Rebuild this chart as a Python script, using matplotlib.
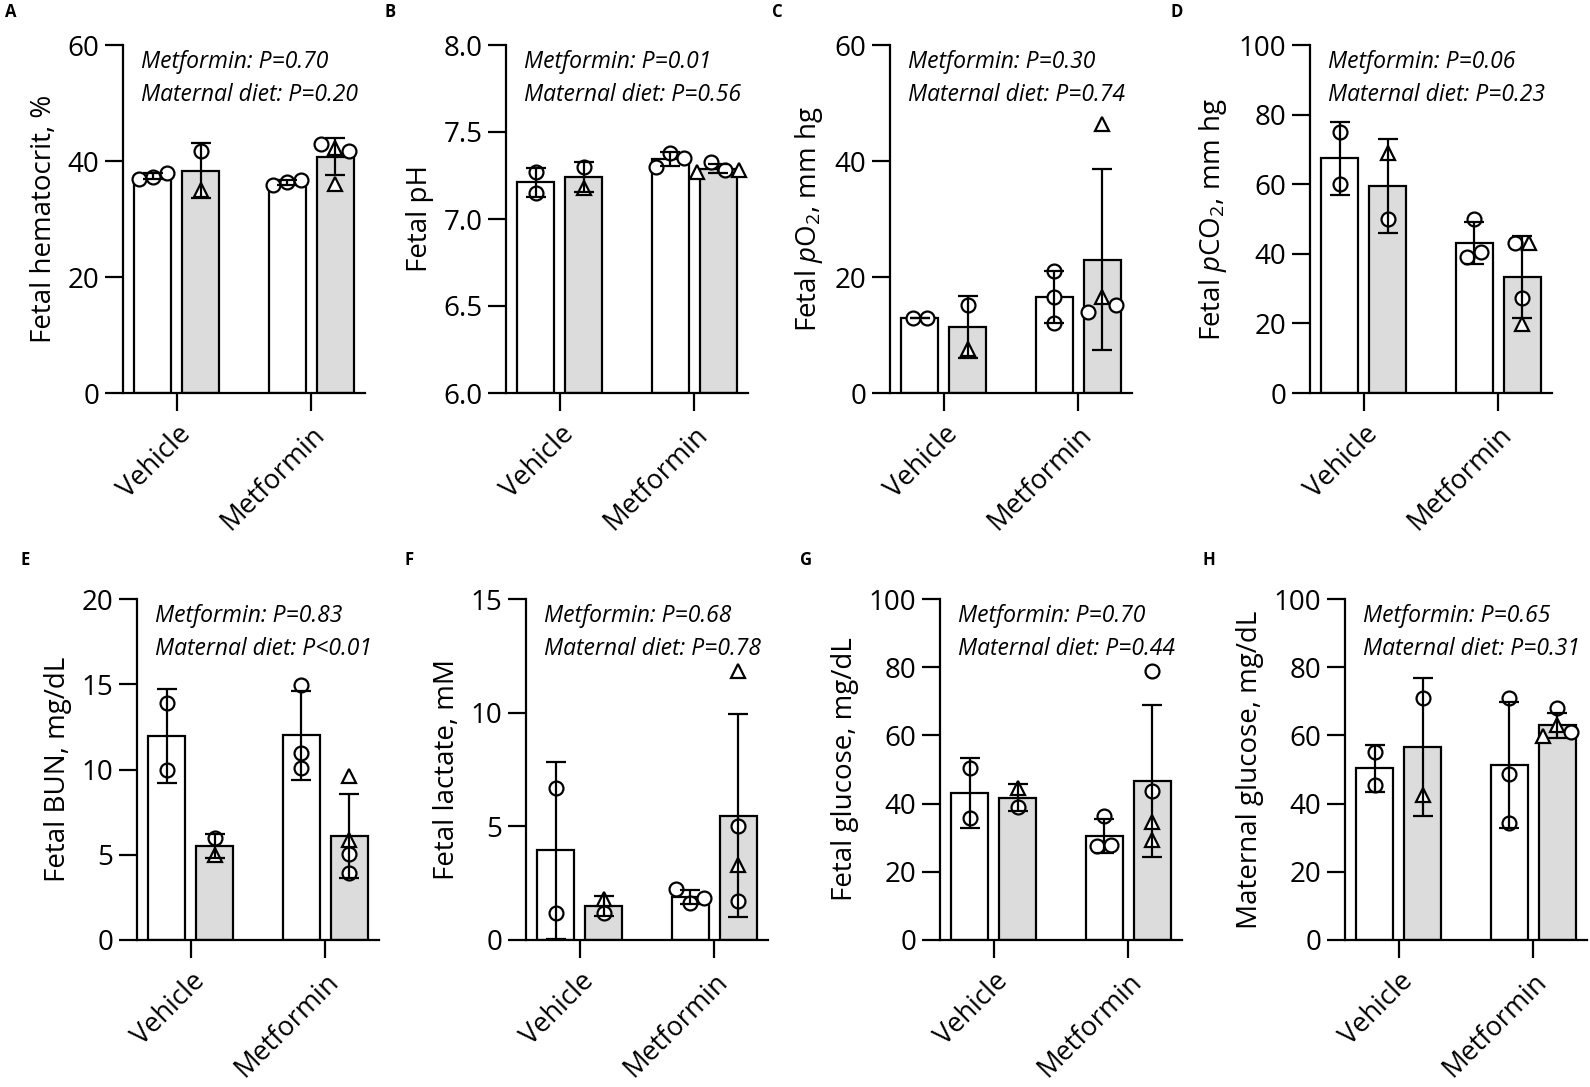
import numpy as np
import matplotlib
matplotlib.use('Agg')
import matplotlib.pyplot as plt

plt.rcParams['font.family'] = ['Open Sans', 'DejaVu Sans']
plt.rcParams['mathtext.fontset'] = 'custom'
plt.rcParams['mathtext.rm'] = 'Open Sans'
plt.rcParams['mathtext.it'] = 'Open Sans:italic'

# x groups; each group has a control-diet bar (white) and a maternal-diet bar (grey)
GROUPS = ['Vehicle', 'Metformin']

# individual values per bar: [Vehicle/control, Vehicle/diet, Metformin/control, Metformin/diet]
# sex codes: 'M' circle, 'F' triangle
hct = [[36.9, 37.3, 38.0], [41.7, 35.0], [35.8, 36.3, 36.8], [42.9, 42.3, 41.8, 36.0]]
hct_sex = [['M', 'M', 'M'], ['M', 'F'], ['M', 'M', 'M'], ['M', 'F', 'M', 'F']]

ph = [[7.27, 7.15], [7.30, 7.18], [7.30, 7.38, 7.35], [7.27, 7.33, 7.28, 7.28]]
ph_sex = [['M', 'M'], ['M', 'F'], ['M', 'M', 'M'], ['F', 'M', 'M', 'F']]

po2 = [[13.0, 13.0], [15.1, 7.6], [21.0, 16.6, 12.0], [46.4, 13.9, 16.6, 15.1]]
po2_sex = [['M', 'M'], ['M', 'F'], ['M', 'M', 'M'], ['F', 'M', 'F', 'M']]

pco2 = [[74.9, 60.0], [69.0, 50.0], [50.0, 39.0, 40.5], [43.1, 43.1, 27.2, 19.7]]
pco2_sex = [['M', 'M'], ['F', 'M'], ['M', 'M', 'M'], ['M', 'F', 'M', 'F']]

bun = [[13.9, 10.0], [6.0, 5.0], [14.95, 10.95, 10.1], [9.6, 5.86, 5.05, 3.94]]
bun_sex = [['M', 'M'], ['M', 'F'], ['M', 'M', 'M'], ['F', 'F', 'M', 'M']]

lact = [[6.7, 1.2], [1.8, 1.2], [2.24, 1.63, 1.83], [11.85, 5.0, 3.3, 1.7]]
lact_sex = [['M', 'M'], ['F', 'M'], ['M', 'M', 'M'], ['F', 'M', 'F', 'M']]

fglu = [[50.3, 35.9], [44.5, 39.0], [36.4, 27.6, 27.8], [78.8, 43.6, 34.5, 29.3]]
fglu_sex = [['M', 'M'], ['F', 'M'], ['M', 'M', 'M'], ['M', 'M', 'F', 'F']]

mglu = [[55.1, 45.5], [71.0, 42.4], [71.0, 48.7, 34.3], [67.9, 59.8, 63.0, 61.0]]
mglu_sex = [['M', 'M'], ['M', 'F'], ['M', 'M', 'M'], ['M', 'F', 'F', 'M']]

p_metformin = ['0.70', '0.01', '0.30', '0.06', '0.83', '0.68', '0.70', '0.65']
p_diet = ['P=0.20', 'P=0.56', 'P=0.74', 'P=0.23', 'P<0.01', 'P=0.78', 'P=0.44', 'P=0.31']

ylabels = ['Fetal hematocrit, %', 'Fetal pH', 'Fetal $p$O$_2$, mm hg',
           'Fetal $p$CO$_2$, mm hg', 'Fetal BUN, mg/dL', 'Fetal lactate, mM',
           'Fetal glucose, mg/dL', 'Maternal glucose, mg/dL']
yticks = [[0, 20, 40, 60], [6.0, 6.5, 7.0, 7.5, 8.0], [0, 20, 40, 60],
          [0, 20, 40, 60, 80, 100], [0, 5, 10, 15, 20], [0, 5, 10, 15],
          [0, 20, 40, 60, 80, 100], [0, 20, 40, 60, 80, 100]]
letters = ['A', 'B', 'C', 'D', 'E', 'F', 'G', 'H']

values = [hct, ph, po2, pco2, bun, lact, fglu, mglu]
sexes = [hct_sex, ph_sex, po2_sex, pco2_sex, bun_sex, lact_sex, fglu_sex, mglu_sex]

# layout (pixels)
W, H = 1590, 1087
AX_W = 242
ROW = [(45, 393), (599, 940)]          # top, bottom of axes per row
AX_LEFT = [123, 506, 890, 1310, 137, 526, 940, 1345]
LETTER_XY = [(5, 12), (385, 12), (772, 12), (1170, 12),
             (20, 560), (405, 560), (800, 560), (1202, 560)]

BAR_W = 0.275
OFF = 0.18
XLIM = (-0.4, 1.4)
FILLS = ['white', '#dcdcdc']
MARKERS = {'M': 'o', 'F': '^'}
STEP_PX = 14


def swarm_offsets(vals, px_per_unit, step_units, gap_px=13):
    """Spread overlapping points sideways, centred on the bar."""
    vals = np.asarray(vals)
    order = np.argsort(-vals, kind='stable')
    clusters, cur = [], [order[0]]
    for a, b in zip(order[:-1], order[1:]):
        if (vals[a] - vals[b]) * px_per_unit < gap_px:
            cur.append(b)
        else:
            clusters.append(cur)
            cur = [b]
    clusters.append(cur)
    offs = np.zeros(len(vals))
    for c in clusters:
        c = sorted(c)
        n = len(c)
        for j, idx in enumerate(c):
            offs[idx] = (j - (n - 1) / 2) * step_units
    return offs


fig = plt.figure(figsize=(W / 100, H / 100), dpi=100)

for k in range(8):
    top, bottom = ROW[k // 4]
    ax = fig.add_axes([AX_LEFT[k] / W, 1 - bottom / H, AX_W / W, (bottom - top) / H])
    ymin, ymax = yticks[k][0], yticks[k][-1]
    px_per_unit = (bottom - top) / (ymax - ymin)
    step = STEP_PX / (AX_W / (XLIM[1] - XLIM[0]))

    xs = [-OFF, OFF, 1 - OFF, 1 + OFF]
    for i in range(4):
        v = np.array(values[k][i])
        mean = v.mean()
        sd = v.std(ddof=1)
        ax.bar(xs[i], mean - ymin, bottom=ymin, width=BAR_W, color=FILLS[i % 2],
               edgecolor='black', linewidth=1.6, zorder=1)
        offs = swarm_offsets(v, px_per_unit, step)
        for val, sx, o in zip(v, sexes[k][i], offs):
            ax.plot(xs[i] + o, val, marker=MARKERS[sx], ms=10, mfc='white', mec='black',
                    mew=1.6, ls='none', zorder=3, clip_on=False)
        ax.errorbar(xs[i], mean, yerr=sd, color='black', capsize=7.5, elinewidth=1.6,
                    capthick=1.6, zorder=4, clip_on=False)

    ax.set_xlim(*XLIM)
    ax.set_ylim(ymin, ymax)
    ax.set_yticks(yticks[k])
    if k == 1:
        ax.set_yticklabels([f'{t:.1f}' for t in yticks[k]])
    ax.set_xticks([0, 1])
    ax.set_xticklabels(GROUPS, rotation=45, ha='right', va='top', rotation_mode='anchor')
    ax.tick_params(axis='both', direction='out', length=13, width=1.6, labelsize=20, pad=4)
    ax.tick_params(axis='x', pad=7, labelsize=19.5)
    for s in ['top', 'right']:
        ax.spines[s].set_visible(False)
    for s in ['left', 'bottom']:
        ax.spines[s].set_linewidth(1.6)
    ax.set_ylabel(ylabels[k], fontsize=20, labelpad=7)

    ax.text(0.075, 0.985, f'Metformin: P={p_metformin[k]}\nMaternal diet: {p_diet[k]}',
            transform=ax.transAxes, ha='left', va='top', fontsize=16.5, style='italic',
            linespacing=1.5, clip_on=False)

    lx, ly = LETTER_XY[k]
    fig.text(lx / W, 1 - ly / H, letters[k], fontsize=12, fontweight='bold',
             ha='left', va='center')

fig.savefig('out.png', dpi=100, facecolor='white')
